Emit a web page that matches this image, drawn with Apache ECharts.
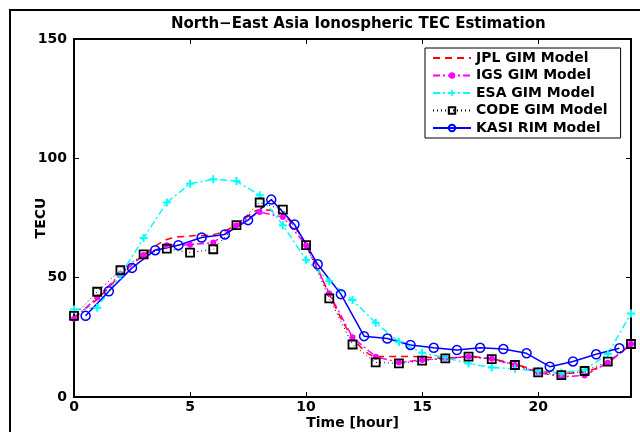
<!DOCTYPE html>
<html>
<head>
<meta charset="utf-8">
<title>North-East Asia Ionospheric TEC Estimation</title>
<script src="https://cdn.jsdelivr.net/npm/echarts@6/dist/echarts.min.js"></script>
<style>
  html, body { margin: 0; padding: 0; background: #fff; }
  #main { width: 640px; height: 432px; }
</style>
</head>
<body>
<div id="main"></div>
<script>
// GIM models are hourly, KASI RIM is on the half hour
var hours = [0, 1, 2, 3, 4, 5, 6, 7, 8, 9, 10, 11, 12, 13, 14, 15, 16, 17, 18, 19, 20, 21, 22, 23, 24];
var kasiHours = [0.5, 1.5, 2.5, 3.5, 4.5, 5.5, 6.5, 7.5, 8.5, 9.5, 10.5, 11.5, 12.5, 13.5, 14.5, 15.5, 16.5, 17.5, 18.5, 19.5, 20.5, 21.5, 22.5, 23.5];

var jpl  = [33.5, 41, 51, 59.5, 66, 67.5, 68, 72, 78.5, 76.5, 64, 43, 25, 17, 17, 16.8, 16.2, 17, 16, 13.8, 11, 10, 10.5, 14.5, 22];
var igs  = [32.8, 41.7, 51.5, 59.5, 63.6, 63.8, 64.7, 72, 77.5, 75.4, 63.6, 43.4, 25, 16.9, 14.5, 15.5, 16.2, 16.9, 16, 13.4, 10.3, 8.5, 9, 14.3, 22.2];
var esa  = [36.7, 37.4, 51, 66.6, 81.5, 89.4, 91.2, 90.5, 84.5, 72, 57.5, 48.5, 40.6, 31.1, 23.1, 18.5, 16.5, 14, 12.4, 11.8, 10.9, 10.2, 11.4, 18, 35];
var code = [34, 44.1, 53.1, 59.8, 62.2, 60.5, 61.9, 72, 81.5, 78.5, 63.6, 41.3, 22, 14.5, 14.1, 15.2, 16.2, 16.9, 15.9, 13.4, 10.3, 9.2, 10.9, 14.8, 22.2];
var kasi = [34, 44.3, 54.1, 61.5, 63.6, 66.8, 68.1, 74.1, 82.7, 72.3, 55.6, 43.1, 25.5, 24.5, 21.8, 20.6, 19.7, 20.6, 20.1, 18.3, 12.7, 14.9, 17.9, 20.4];

var xTicks = [0, 5, 10, 15, 20];
var yTicks = [0, 50, 100, 150];

var FONT = 'DejaVu Sans';

function pairs(xs, ys) {
    return xs.map(function (x, i) { return [x, ys[i]]; });
}

var plusPath = 'path://M3,0h2v3h3v2h-3v3h-2v-3h-3v-2h3z';

var chart = echarts.init(document.getElementById('main'));

var frameAxis = {
    type: 'value',
    axisLine: { show: true, onZero: false, lineStyle: { color: '#000', width: 2 } },
    axisTick: { show: true, inside: true, length: 5, lineStyle: { color: '#000', width: 1 } },
    splitLine: { show: false }
};

var textBold = { fontFamily: FONT, fontWeight: 'bold', fontSize: 14, color: '#000' };

chart.setOption({
    animation: false,
    backgroundColor: '#fff',
    title: {
        text: 'North\u2212East Asia Ionospheric TEC Estimation',
        left: 166,
        top: 12,
        textStyle: { fontFamily: FONT, fontWeight: 'bold', fontSize: 15, color: '#000' }
    },
    grid: { left: 74, right: 9, top: 39, bottom: 35, outerBoundsMode: 'none' },
    legend: {
        orient: 'vertical',
        left: 425,
        top: 48,
        padding: [3, 13, 3, 7],
        itemWidth: 38,
        itemHeight: 8,
        itemGap: 3.5,
        borderColor: '#000',
        borderWidth: 1,
        backgroundColor: '#fff',
        data: [
            { name: 'JPL GIM Model', itemStyle: { opacity: 0 } },
            'IGS GIM Model',
            'ESA GIM Model',
            'CODE GIM Model',
            'KASI RIM Model'
        ],
        textStyle: textBold
    },
    xAxis: [
        Object.assign({}, frameAxis, {
            position: 'bottom',
            min: 0, max: 24, interval: 5,
            name: 'Time [hour]',
            nameLocation: 'middle',
            nameGap: 19,
            nameMoveOverlap: false,
            nameTextStyle: textBold,
            axisLabel: Object.assign({}, textBold, {
                margin: 3,
                formatter: function (v) { return xTicks.indexOf(v) >= 0 ? String(v) : ''; }
            })
        }),
        Object.assign({}, frameAxis, {
            position: 'top',
            min: 0, max: 24, interval: 5,
            axisLabel: { show: false }
        })
    ],
    yAxis: [
        Object.assign({}, frameAxis, {
            position: 'left',
            min: 0, max: 150, interval: 50,
            name: 'TECU',
            nameLocation: 'middle',
            nameGap: 26,
            nameMoveOverlap: false,
            nameTextStyle: textBold,
            axisLabel: Object.assign({}, textBold, {
                margin: 7,
                formatter: function (v) { return yTicks.indexOf(v) >= 0 ? String(v) : ''; }
            })
        }),
        Object.assign({}, frameAxis, {
            position: 'right',
            min: 0, max: 150, interval: 50,
            axisLabel: { show: false }
        })
    ],
    graphic: [{
        type: 'rect',
        shape: { x: 10, y: 10, width: 700, height: 500 },
        style: { fill: null, stroke: '#000', lineWidth: 2 },
        silent: true
    }],
    series: [
        {
            name: 'JPL GIM Model',
            type: 'line',
            data: pairs(hours, jpl),
            smooth: 0.3,
            showSymbol: false,
            symbol: 'none',
            lineStyle: { color: '#ff0000', width: 1.5, type: [7, 5] },
            itemStyle: { color: '#ff0000' }
        },
        {
            name: 'IGS GIM Model',
            type: 'line',
            data: pairs(hours, igs),
            symbol: 'circle',
            symbolSize: 6,
            lineStyle: { color: '#ff00ff', width: 1.5, type: [7, 3, 2, 3] },
            itemStyle: { color: '#ff00ff' }
        },
        {
            name: 'ESA GIM Model',
            type: 'line',
            data: pairs(hours, esa),
            symbol: plusPath,
            symbolSize: 8,
            lineStyle: { color: '#00ffff', width: 1.5, type: [7, 3, 2, 3] },
            itemStyle: { color: '#00ffff' }
        },
        {
            name: 'CODE GIM Model',
            type: 'line',
            data: pairs(hours, code),
            symbol: 'rect',
            symbolSize: 8,
            lineStyle: { color: '#000', width: 1, type: [1, 3] },
            itemStyle: { color: 'rgba(0,0,0,0)', borderColor: '#000', borderWidth: 1.8 }
        },
        {
            name: 'KASI RIM Model',
            type: 'line',
            data: pairs(kasiHours, kasi),
            symbol: 'circle',
            symbolSize: 9,
            lineStyle: { color: '#0000ff', width: 1.5 },
            itemStyle: { color: 'rgba(0,0,0,0)', borderColor: '#0000ff', borderWidth: 1.5 }
        }
    ]
});
</script>
</body>
</html>
